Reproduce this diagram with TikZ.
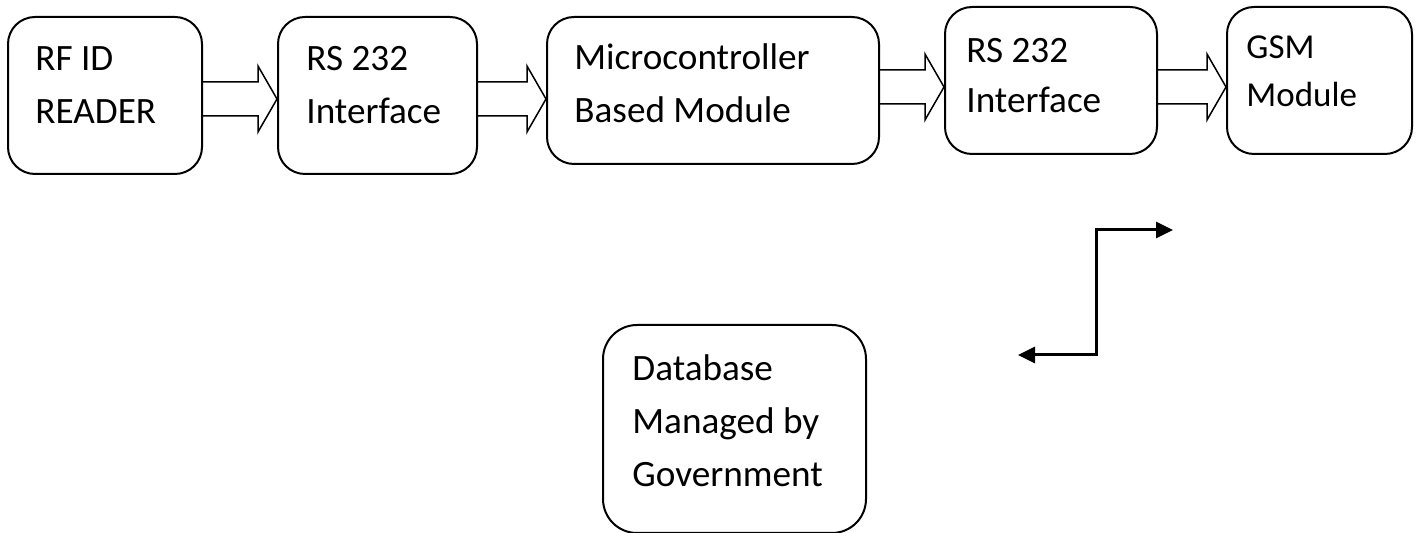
\documentclass[tikz,border=0pt]{standalone}
\usepackage{fontspec}
\setmainfont{Carlito}
\usetikzlibrary{arrows.meta,calc}

\tikzset{
  block/.style={draw, line width=1pt, rounded corners=13.5pt, inner sep=0pt},
  blocktext/.style={font=\fontsize{18.6}{26.5}\selectfont, align=left, anchor=base west, inner sep=0pt},
  hollow/.style={line width=0.75pt, line join=miter},
  link/.style={line width=1.5pt, {Triangle[length=8.5pt,width=8pt]}-{Triangle[length=8.5pt,width=8pt]}}
}

\begin{document}
\begin{tikzpicture}[x=0.5pt, y=-0.5pt]
    \useasboundingbox (0,0) rectangle (1419,533) ;
    % blocks
    \node[block, minimum width=97pt, minimum height=78.5pt] (rfid) at (105,95.5) {} ;
    \node[block, minimum width=99.5pt, minimum height=78.5pt] (rsin) at (377.5,95.5) {} ;
    \node[block, minimum width=166pt, minimum height=73.5pt] (mcu) at (713,90.5) {} ;
    \node[block, minimum width=106pt, minimum height=73.5pt] (rsout) at (1051,80.5) {} ;
    \node[block, minimum width=92.5pt, minimum height=73.5pt] (gsm) at (1319.5,80.5) {} ;
    \node[block, rounded corners=17pt, minimum width=131.5pt, minimum height=104pt] (db) at (734.5,429) {} ;
    % texts (base = last line)
    \node[blocktext] (rfidtext) at (35,124) {RF ID\\READER} ;
    \node[blocktext] (rsintext) at (306,124) {RS 232\\Interface} ;
    \node[blocktext] (mcutext) at (574,123) {Microcontroller\\Based Module} ;
    \node[blocktext, font=\fontsize{18.6}{25}\selectfont] (rsouttext) at (966,113) {RS 232\\Interface} ;
    \node[blocktext, font=\fontsize{17.5}{24}\selectfont] (gsmtext) at (1246,107) {GSM\\Module} ;
    \node[blocktext] (dbtext) at (632,487) {Database\\Managed by\\Government} ;
    % hollow arrows
    \foreach \a/\b/\m in {rfid/rsin/99, rsin/mcu/99, mcu/rsout/87, rsout/gsm/87}
      \draw[hollow] (\a.east |- 0,\m-17) -- ($(\b.west |- 0,\m)+(-19,-17)$)
        -- ($(\b.west |- 0,\m)+(-19,-33)$) -- (\b.west |- 0,\m)
        -- ($(\b.west |- 0,\m)+(-19,33)$) -- ($(\b.west |- 0,\m)+(-19,17)$)
        -- (\a.east |- 0,\m+17) ;
    % step link
    \coordinate (dbend) at (1018,355) ;
    \coordinate (gsmend) at (1173,230) ;
    \draw[link] (dbend) -| (1096,292) |- (gsmend) ;
  \end{tikzpicture}
\end{document}
